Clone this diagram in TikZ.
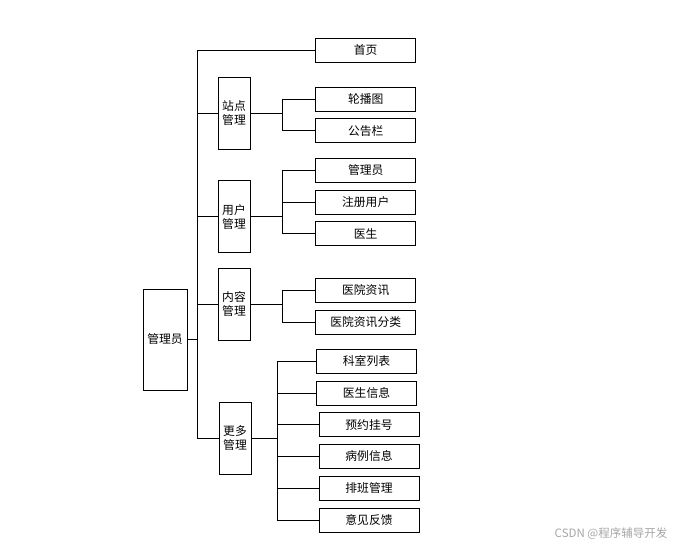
\documentclass[tikz,border=0pt]{standalone}
\usepackage{fontspec}
\newfontfamily\cjk{Noto Sans CJK SC}
\usepackage{tikz}

\begin{document}
\begin{tikzpicture}[x=1pt,y=-1pt,line width=0.8pt,
  every node/.style={font=\cjk\fontsize{11.8}{14}\selectfont},
  leaf/.style={draw,inner sep=0pt,minimum width=100pt,minimum height=24pt},
  group/.style={draw,inner sep=0pt,minimum width=32pt,minimum height=72pt,align=center},
  root/.style={draw,inner sep=0pt,minimum width=44pt,minimum height=101pt}]
\useasboundingbox (0,0) rectangle (679,549);
% root and second level
\node[root] (r) at (165,339.5) {管理员};
\node[group] (s1) at (234,113.3) {站点\\管理};
\node[group] (s2) at (234,216.5) {用户\\管理};
\node[group] (s3) at (234,304) {内容\\管理};
\node[group] (s4) at (235,438.3) {更多\\管理};
% leaves
\node[leaf] (a1) at (365.7,50.3) {首页};
\node[leaf] (a2) at (365.7,99) {轮播图};
\node[leaf] (a3) at (365.7,130.7) {公告栏};
\node[leaf] (b1) at (365.7,170.3) {管理员};
\node[leaf] (b2) at (365.7,202) {注册用户};
\node[leaf] (b3) at (365.7,233.8) {医生};
\node[leaf] (c1) at (365.7,290) {医院资讯};
\node[leaf] (c2) at (365.7,322) {医院资讯分类};
\node[leaf] (d1) at (366.5,361) {科室列表};
\node[leaf] (d2) at (366.5,393) {医生信息};
\node[leaf] (d3) at (369,424.7) {预约挂号};
\node[leaf] (d4) at (369,456.3) {病例信息};
\node[leaf] (d5) at (369,488.3) {排班管理};
\node[leaf] (d6) at (369,520.3) {意见反馈};
% trunk
\coordinate (t1) at (197,50.3);
\coordinate (t2) at (197,438.3);
\draw (t1) -- (t2);
\draw (t1) -- (a1.west);
\draw (r.east) -- (r.east -| t1);
\foreach \s in {s1,s2,s3,s4}
  \draw (\s.west) -- (\s.west -| t1);
% branches
\foreach \a in {a2,a3}
  \draw (s1.east) -- +(31.7,0) |- (\a.west);
\foreach \a in {b1,b2,b3}
  \draw (s2.east) -- +(31.7,0) |- (\a.west);
\foreach \a in {c1,c2}
  \draw (s3.east) -- +(31.7,0) |- (\a.west);
\foreach \a in {d1,d2,d3,d4,d5,d6}
  \draw (s4.east) -- +(25.7,0) |- (\a.west);
% watermark
\node[text=black!35,anchor=east,font=\cjk\fontsize{11.5}{13}\selectfont] (w) at (671,534) {CSDN @程序辅导开发};
\end{tikzpicture}
\end{document}
